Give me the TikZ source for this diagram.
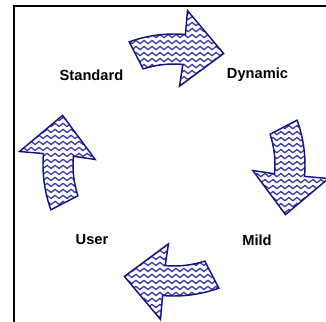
\documentclass[tikz,border=0pt]{standalone}
\usepackage{fontspec}
\setmainfont{Liberation Sans}
\definecolor{arrowblue}{RGB}{20,20,130}
\definecolor{waveblue}{RGB}{55,55,165}
\tikzset{
  arrowline/.style={draw=arrowblue, line width=1.1pt, line join=miter},
  waveline/.style={draw=waveblue, line width=0.95pt},
  steplabel/.style={font=\bfseries\fontsize{11}{13}\selectfont}
}
% one curved block arrow, turned clockwise by #1 degrees
\newcommand\cyclearrow[1]{(110-#1:131) arc[start angle=110-#1, end angle=85-#1, radius=131] -- (85-#1:155) -- (66-#1:122) -- (86-#1:79) -- (85-#1:101) arc[start angle=85-#1, end angle=108-#1, radius=100] -- cycle}

\begin{document}
\begin{tikzpicture}[x=0.75pt,y=0.75pt]
    \useasboundingbox (-174,-157) rectangle (152,165);
    \draw[line width=1.5pt] (-160,-157) -- (-160,159) -- (152,159);

    \node[steplabel] (std) at (-82.5,90) {Standard};
    \node[steplabel] (dyn) at (83.5,90) {Dynamic};
    \node[steplabel] (mild) at (83,-75) {Mild};
    \node[steplabel] (user) at (-82,-75) {User};

    \foreach \a in {0,90,180,270} {
        \begin{scope}
            \clip \cyclearrow{\a};
            \fill[white] \cyclearrow{\a};
            \foreach \dy in {-48,-42,...,48}
                \draw[waveline, shift={(88-\a:117)}] (-52,\dy) \foreach \k in {1,...,13} { sin ++(2,1.6) cos ++(2,-1.6) sin ++(2,-1.6) cos ++(2,1.6) };
        \end{scope}
        \draw[arrowline] \cyclearrow{\a};
    }
\end{tikzpicture}
\end{document}
